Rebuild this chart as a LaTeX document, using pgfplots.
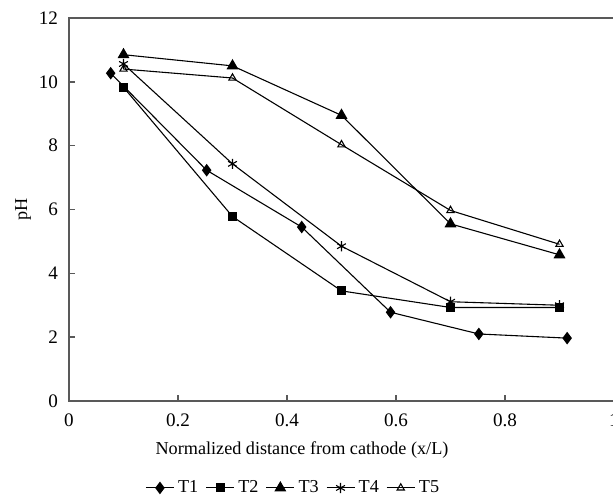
\documentclass[border=0pt]{standalone}
\usepackage{fontspec}
\setmainfont{Liberation Serif}
\usepackage{pgfplots}
\pgfplotsset{compat=1.18}
\begin{document}
\begin{tikzpicture}
\begin{axis}[
 scale only axis, width=299.75pt, height=210.65pt,
 xmin=0, xmax=1, ymin=0, ymax=12,
 xtick={0,0.2,0.4,0.6,0.8,1}, ytick={0,2,4,6,8,10,12},
 xticklabels={0,0.2,0.4,0.6,0.8,1},
 tick align=inside, xtick pos=bottom, ytick pos=left,
 major tick length=3.5pt,
 axis line style={line width=0.9pt, color=black!65},
 every tick/.style={line width=0.8pt, color=black!65},
 /pgf/number format/assume math mode=true,
 font=\fontsize{10}{12}\selectfont,
 ticklabel style={font=\fontsize{10.5}{12}\selectfont},
 xticklabel style={yshift=-3.5pt},
 yticklabel style={xshift=-2.5pt},
 xlabel={Normalized distance from cathode (x/L)},
 ylabel={pH},
 xlabel style={at={(axis description cs:0.4275,-0.128)}, anchor=center},
 ylabel style={at={(axis description cs:-0.0844,0.5)}, anchor=center},
 legend columns=5,
 legend style={at={(axis description cs:0.413,-0.227)}, anchor=center, draw=none, fill=none,
   font=\fontsize{10}{12}\selectfont,
   /tikz/every even column/.append style={column sep=2pt}},
 legend image code/.code={\draw[mark repeat=2,mark phase=2,#1] plot coordinates {(0pt,0pt) (7.7pt,0pt) (15.4pt,0pt)};},
 every axis plot/.append style={line width=0.6pt, color=black},
]
\addplot[mark=diamond*, mark size=3pt] coordinates {(0.0765,10.27) (0.2526,7.23) (0.427,5.45) (0.590,2.78) (0.752,2.10) (0.914,1.97)};
\addlegendentry{T1}
\addplot[mark=square*, mark size=2.2pt] coordinates {(0.10,9.83) (0.30,5.78) (0.50,3.45) (0.70,2.93) (0.90,2.93)};
\addlegendentry{T2}
\addplot[mark=triangle*, mark size=3.2pt] coordinates {(0.10,10.85) (0.30,10.5) (0.50,8.95) (0.70,5.55) (0.90,4.58)};
\addlegendentry{T3}
\addplot[mark=asterisk, mark size=2.8pt] coordinates {(0.10,10.56) (0.30,7.43) (0.50,4.85) (0.70,3.11) (0.90,3.0)};
\addlegendentry{T4}
\addplot[mark=triangle, mark size=2.3pt, mark options={fill=white}] coordinates {(0.10,10.4) (0.30,10.12) (0.50,8.03) (0.70,5.97) (0.90,4.91)};
\addlegendentry{T5}
\coordinate (bl) at (rel axis cs:0,0);
\coordinate (tr) at (rel axis cs:1,1);
\end{axis}
\pgfresetboundingbox
\path ([xshift=-37.95pt,yshift=-52.25pt]bl) rectangle ([xshift=-0.55pt,yshift=9.9pt]tr);
\end{tikzpicture}
\end{document}
